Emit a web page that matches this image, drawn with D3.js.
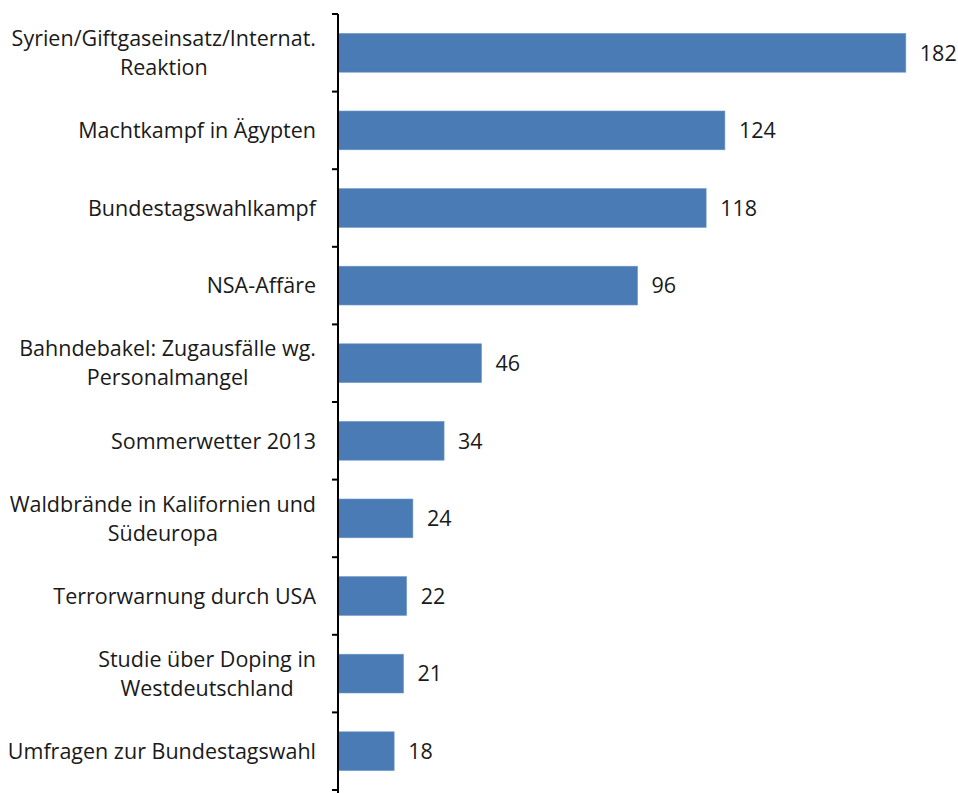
<!DOCTYPE html>
<html>
<head>
<meta charset="utf-8">
<script src="https://cdn.jsdelivr.net/npm/d3@7"></script>
<style>
  body { margin: 0; background: #fff; }
  svg text { font-family: "Open Sans", "Noto Sans", sans-serif; fill: #1a1a1a; }
</style>
</head>
<body>
<div id="chart"></div>
<script>
// topics (line breaks as in the original)
const topics = [
    ['Syrien/Giftgaseinsatz/Internat.', 'Reaktion'],
    ['Machtkampf in Ägypten'],
    ['Bundestagswahlkampf'],
    ['NSA-Affäre'],
    ['Bahndebakel: Zugausfälle wg.', 'Personalmangel'],
    ['Sommerwetter 2013'],
    ['Waldbrände in Kalifornien und', 'Südeuropa'],
    ['Terrorwarnung durch USA'],
    ['Studie über Doping in', 'Westdeutschland'],
    ['Umfragen zur Bundestagswahl']
];
const counts = [182, 124, 118, 96, 46, 34, 24, 22, 21, 18];

const width = 958, height = 793;
const axisX = 338;

const svg = d3.select('#chart').append('svg')
    .attr('width', width)
    .attr('height', height);

const x = d3.scaleLinear()
    .domain([0, 200])
    .range([axisX, 962]);

const y = d3.scaleBand()
    .domain(d3.range(topics.length))
    .range([14, 790])
    .paddingInner(0.5)
    .paddingOuter(0.25);

// bars
svg.append('g')
    .selectAll('rect')
    .data(counts)
    .join('rect')
    .attr('x', x(0))
    .attr('y', (d, i) => y(i))
    .attr('width', d => x(d) - x(0))
    .attr('height', y.bandwidth())
    .attr('fill', '#4a7bb5')
    .attr('stroke', '#6f98c8')
    .attr('stroke-width', 0.6);

// value labels
svg.append('g')
    .selectAll('text')
    .data(counts)
    .join('text')
    .attr('x', d => x(d) + 14)
    .attr('y', (d, i) => y(i) + y.bandwidth() / 2 + 2)
    .attr('dominant-baseline', 'middle')
    .style('font-size', '21.5px')
    .text(d => d);

// axis line + ticks at band boundaries
const axis = svg.append('g').attr('stroke', '#000').attr('stroke-width', 2);
axis.append('line')
    .attr('x1', axisX).attr('x2', axisX)
    .attr('y1', 14).attr('y2', height);
axis.selectAll('line.tick')
    .data(d3.range(topics.length + 1))
    .join('line')
    .classed('tick', true)
    .attr('x1', axisX - 6).attr('x2', axisX)
    .attr('y1', i => 14 + i * (790 - 14) / topics.length)
    .attr('y2', i => 14 + i * (790 - 14) / topics.length);

// category labels: block right aligned, lines centred within the block
const lineH = 29;
const labels = svg.append('g')
    .selectAll('g.label')
    .data(topics)
    .join('g')
    .classed('label', true);

labels.each(function(lines, i) {
    const g = d3.select(this);
    const cy = y(i) + y.bandwidth() / 2 + 2;
    const top = cy - (lines.length - 1) * lineH / 2;
    const texts = g.selectAll('text')
        .data(lines)
        .join('text')
        .attr('y', (d, j) => top + j * lineH)
        .attr('dominant-baseline', 'middle')
        .attr('text-anchor', 'middle')
        .style('font-size', '21.5px')
        .text(d => d);
    let maxW = 0;
    texts.each(function() { maxW = Math.max(maxW, this.getComputedTextLength()); });
    texts.attr('x', 316 - maxW / 2);
});
</script>
</body>
</html>
